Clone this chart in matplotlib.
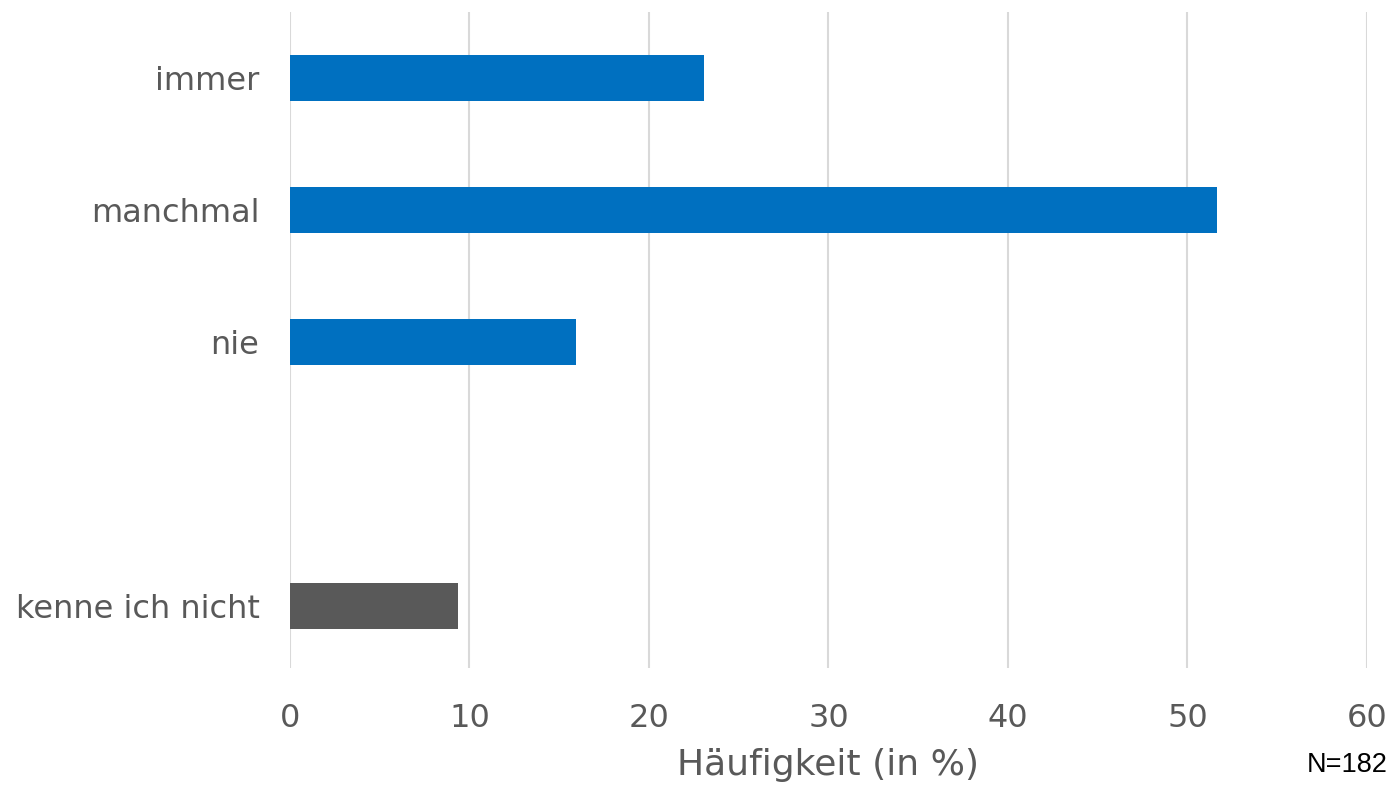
import matplotlib.pyplot as plt

# Antworten (N=182), Anteile in Prozent
kategorien = ['immer', 'manchmal', 'nie', '', 'kenne ich nicht']
anzahl = [42, 94, 29, 0, 17]
n_gesamt = 182
anteile = [a / n_gesamt * 100 for a in anzahl]
farben = ['#0070C0', '#0070C0', '#0070C0', '#0070C0', '#595959']

grau = '#595959'

fig = plt.figure(figsize=(13.96, 7.86), dpi=100)
ax = fig.add_axes([0.2077, 0.150, 0.7715, 0.8347])

pos = list(range(len(kategorien)))
ax.barh(pos, anteile, height=0.35, color=farben, zorder=3)

ax.set_xlim(0, 60)
ax.set_ylim(4.47, -0.5)
ax.set_xticks(range(0, 61, 10))
ax.set_yticks([p for p, k in zip(pos, kategorien) if k])
ax.set_yticklabels([k for k in kategorien if k])

ax.grid(axis='x', color='#D9D9D9', linewidth=1.5, zorder=0)
for s in ax.spines.values():
    s.set_visible(False)
ax.tick_params(axis='both', length=0, labelsize=23, labelcolor=grau)
ax.tick_params(axis='x', pad=25)
ax.tick_params(axis='y', pad=22)

ax.set_xlabel('Häufigkeit (in %)', fontsize=26, color=grau, labelpad=10)

fig.text(0.994, 0.010, 'N=' + str(n_gesamt), ha='right', va='bottom',
         fontsize=19.5, family='Liberation Sans', color='black')

fig.savefig('out.png', dpi=100)
